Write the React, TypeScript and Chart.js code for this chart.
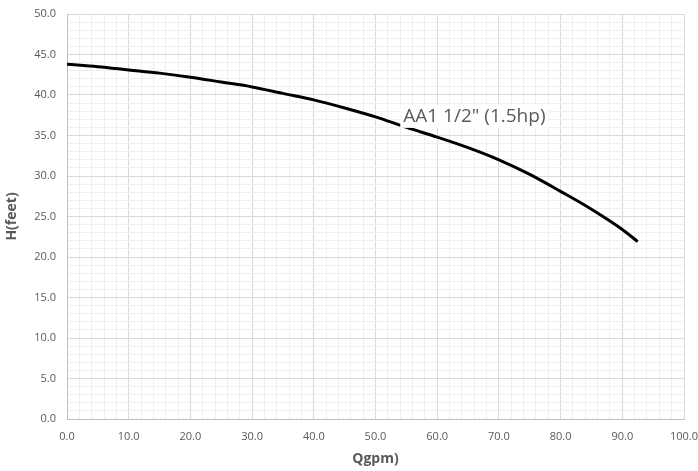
import React, { useEffect, useRef } from "react";
import { Chart, registerables } from "chart.js";

Chart.register(...registerables);

const flowGpm = [0, 5, 10, 15, 20, 25, 30, 35, 40, 45, 50, 55, 60, 65, 70, 75, 80, 85, 90, 92.5];
const headFeet = [43.8, 43.5, 43.1, 42.7, 42.2, 41.6, 41.0, 40.2, 39.4, 38.4, 37.3, 36.0, 34.8, 33.5, 32.0, 30.2, 28.1, 25.9, 23.4, 21.9];
const seriesLabel = 'AA1 1/2" (1.5hp)';
const labelAt = { x: 54.5, y: 37.3 };
const xTitle = "Qgpm)";
const yTitle = "H(feet)";

const MAJOR = "#d9d9d9";
const MINOR = "#efefef";
const TEXT = "#595959";

const labelPlugin = {
  id: "seriesLabel",
  afterDatasetsDraw(chart: any) {
    const { ctx, scales } = chart;
    const px = scales.x.getPixelForValue(labelAt.x);
    const py = scales.y.getPixelForValue(labelAt.y);
    ctx.save();
    ctx.font = '19px "Open Sans", sans-serif';
    const w = ctx.measureText(seriesLabel).width;
    ctx.fillStyle = "#ffffff";
    ctx.fillRect(px - 3, py - 12, w + 6, 23);
    ctx.fillStyle = TEXT;
    ctx.textBaseline = "middle";
    ctx.textAlign = "left";
    ctx.fillText(seriesLabel, px, py);
    ctx.restore();
  },
};

export default function App() {
  const ref = useRef<HTMLCanvasElement>(null);
  useEffect(() => {
    if (!ref.current) return;
    const chart = new Chart(ref.current, {
      type: "scatter",
      data: {
        datasets: [
          {
            label: seriesLabel,
            data: flowGpm.map((q, i) => ({ x: q, y: headFeet[i] })),
            showLine: true,
            borderColor: "#000000",
            borderWidth: 3,
            pointRadius: 0,
            cubicInterpolationMode: "monotone",
            fill: false,
          } as any,
        ],
      },
      options: {
        animation: false,
        responsive: true,
        maintainAspectRatio: false,
        layout: { padding: { left: 0, top: 14, right: 14, bottom: 0 } },
        plugins: { legend: { display: false }, tooltip: { enabled: false } },
        scales: {
          x: {
            type: "linear",
            min: 0,
            max: 100,
            afterFit: (s: any) => {
              s.height = 52;
              s.paddingRight = 0;
              s.paddingLeft = 0;
            },
            ticks: {
              stepSize: 2,
              autoSkip: false,
              maxRotation: 0,
              minRotation: 0,
              padding: 11,
              color: TEXT,
              font: { family: '"Open Sans", sans-serif', size: 11 },
              callback: (v: any) => (Math.round(Number(v)) % 10 === 0 ? Number(v).toFixed(1) : ""),
            },
            grid: {
              drawTicks: false,
              color: (c: any) => (c.tick && Math.round(c.tick.value) % 10 === 0 ? MAJOR : MINOR),
            },
            border: { color: "#bfbfbf" },
            title: {
              display: true,
              text: xTitle,
              color: TEXT,
              font: { family: '"Open Sans", sans-serif', size: 14, weight: "bold" },
            },
          },
          y: {
            type: "linear",
            min: 0,
            max: 50,
            afterFit: (s: any) => {
              s.width = 67;
              s.paddingTop = 0;
              s.paddingBottom = 0;
            },
            ticks: {
              stepSize: 1,
              autoSkip: false,
              padding: 11,
              color: TEXT,
              font: { family: '"Open Sans", sans-serif', size: 11 },
              callback: (v: any) => (Math.round(Number(v)) % 5 === 0 ? Number(v).toFixed(1) : ""),
            },
            grid: {
              drawTicks: false,
              color: (c: any) => (c.tick && Math.round(c.tick.value) % 5 === 0 ? MAJOR : MINOR),
            },
            border: { color: "#bfbfbf" },
            title: {
              display: true,
              text: yTitle,
              color: TEXT,
              font: { family: '"Open Sans", sans-serif', size: 14, weight: "bold" },
            },
          },
        },
      },
      plugins: [labelPlugin],
    });
    return () => chart.destroy();
  }, []);
  return (
    <div style={{ position: "fixed", left: 0, top: 0, width: 698, height: 471, background: "#fff" }}>
      <canvas ref={ref} />
    </div>
  );
}
